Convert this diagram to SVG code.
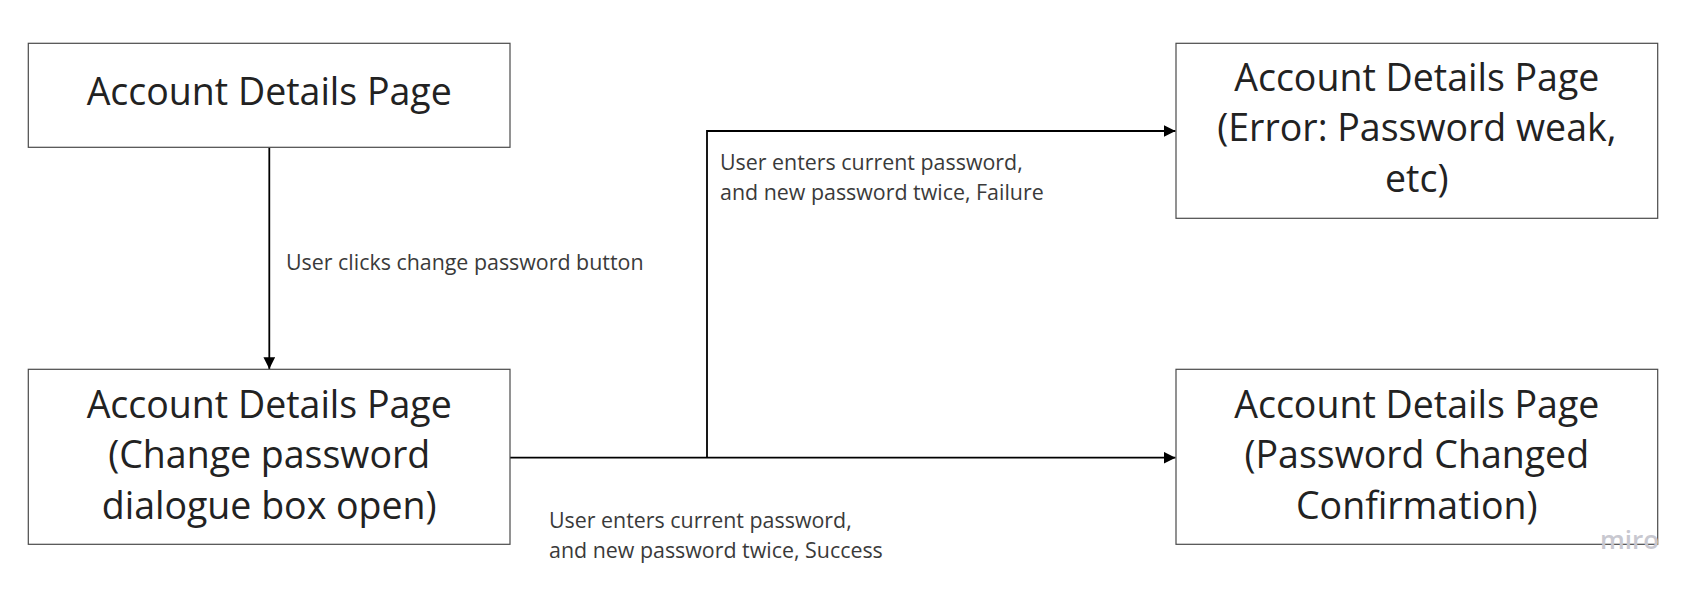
<svg xmlns="http://www.w3.org/2000/svg" width="1693" height="590" viewBox="0 0 1693 590">
  <style>
    .box { fill: #ffffff; stroke: #4a4a4a; stroke-width: 1.2; }
    .big { font-family: "Open Sans", "Liberation Sans", sans-serif; font-size: 37.5px; fill: #222222; text-anchor: middle; }
    .lbl { font-family: "Open Sans", "Liberation Sans", sans-serif; font-size: 21.4px; fill: #3a3a3a; }
    .edge { fill: none; stroke: #000000; stroke-width: 1.8; }
    .wm { font-family: "Open Sans", "Liberation Sans", sans-serif; font-size: 26px; font-weight: 600; fill: #c8c8d0; }
  </style>
  <defs>
    <marker id="arr" viewBox="0 0 10 10" refX="10" refY="5" markerWidth="6.5" markerHeight="6.5" markerUnits="strokeWidth" orient="auto">
      <path d="M0,0 L10,5 L0,10 Z" fill="#000000"/>
    </marker>
  </defs>
  <rect width="1693" height="590" fill="#ffffff"/>

  <g id="connectors">
    <line class="edge" x1="269.3" y1="147.3" x2="269.3" y2="369" marker-end="url(#arr)"/>
    <line class="edge" x1="510" y1="457.7" x2="1175.5" y2="457.7" marker-end="url(#arr)"/>
    <polyline class="edge" points="707,457.7 707,131 1175.5,131" marker-end="url(#arr)"/>
    <text class="lbl" x="286" y="269.5">User clicks change password button</text>
    <text class="lbl" x="720" y="169.5">User enters current password,</text>
    <text class="lbl" x="720" y="199.5">and new password twice, Failure</text>
    <text class="lbl" x="549" y="527.5">User enters current password,</text>
    <text class="lbl" x="549" y="557.5">and new password twice, Success</text>
  </g>

  <g id="node-account">
    <rect class="box" x="28.3" y="43.3" width="481.7" height="104"/>
    <text class="big" x="269.2" y="105">Account Details Page</text>
  </g>

  <g id="node-dialog">
    <rect class="box" x="28.3" y="369.3" width="481.7" height="175"/>
    <text class="big" x="269.2" y="417.5">Account Details Page</text>
    <text class="big" x="269.2" y="468.2">(Change password</text>
    <text class="big" x="269.2" y="518.9">dialogue box open)</text>
  </g>

  <g id="node-error">
    <rect class="box" x="1176" y="43.3" width="481.7" height="175"/>
    <text class="big" x="1416.8" y="90.5">Account Details Page</text>
    <text class="big" x="1416.8" y="141.2">(Error: Password weak,</text>
    <text class="big" x="1416.8" y="191.9">etc)</text>
  </g>

  <g id="node-success">
    <rect class="box" x="1176" y="369.3" width="481.7" height="175"/>
    <text class="big" x="1416.8" y="417.5">Account Details Page</text>
    <text class="big" x="1416.8" y="468.2">(Password Changed</text>
    <text class="big" x="1416.8" y="518.9">Confirmation)</text>
  </g>

  <text class="wm" x="1600" y="549">miro</text>
</svg>
